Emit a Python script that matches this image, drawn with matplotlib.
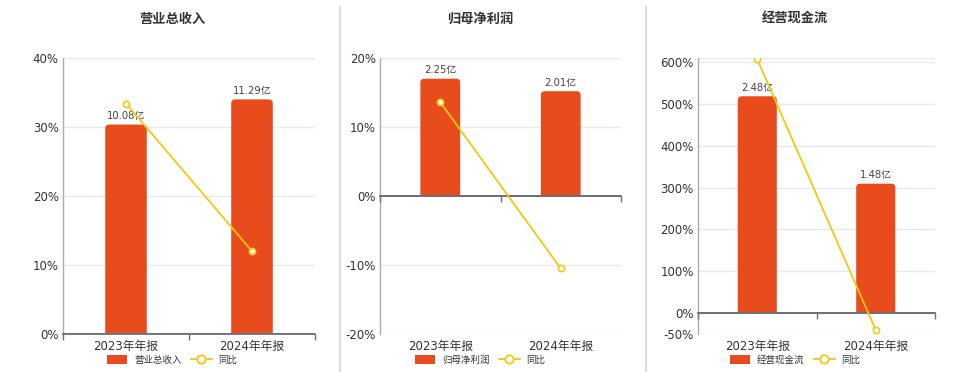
import numpy as np
import matplotlib
matplotlib.use('Agg')
import matplotlib.pyplot as plt
from matplotlib.patches import FancyBboxPatch, Rectangle, Patch
from matplotlib.lines import Line2D
from matplotlib.ticker import FuncFormatter

plt.rcParams['font.family'] = ['DejaVu Sans', 'Noto Sans CJK SC']

# ---------------- data ----------------
categories = ['2023年年报', '2024年年报']
titles = ['营业总收入', '归母净利润', '经营现金流']
revenue = [10.08, 11.29]
revenue_yoy = [33.4, 12.0]
profit = [2.25, 2.01]
profit_yoy = [13.6, -10.5]
cashflow = [2.48, 1.48]
cashflow_yoy = [607.0, -40.7]
unit = '亿'
yoy_name = '同比'
pct_limits = [(0, 40), (-20, 20), (-50, 610)]
pct_ticks = [[0, 10, 20, 30, 40], [-20, -10, 0, 10, 20],
             [-50, 0, 100, 200, 300, 400, 500, 600]]

# ---------------- style ----------------
W, H = 960, 372
BAR_C = '#E84C1C'
LINE_C = '#F5C710'
GRID_C = '#E6EAF2'
AXIS_C = '#6E7079'
SPINE_C = '#A9ADB4'
TEXT_C = '#333333'

axes_px = [(63, 315), (380, 621), (698, 935)]
centers_px = [172, 480, 795]
TOP, BOT = 58, 334

fig = plt.figure(figsize=(W / 100, H / 100), dpi=100)

panels = [(revenue, revenue_yoy), (profit, profit_yoy), (cashflow, cashflow_yoy)]
x = np.arange(len(categories))


def round_bars(axb, rects, radius_px):
    bbox = axb.get_position()
    w_px = bbox.width * W
    h_px = bbox.height * H
    x0, x1 = axb.get_xlim()
    y0, y1 = axb.get_ylim()
    xu = (x1 - x0) / w_px
    yu = (y1 - y0) / h_px
    r = radius_px * xu
    aspect = yu / xu
    for rect in rects:
        bx, by = rect.get_xy()
        bw, bh = rect.get_width(), rect.get_height()
        rect.set_visible(False)
        ext = radius_px * yu * 2
        p = FancyBboxPatch((bx, by - ext), bw, bh + ext,
                           boxstyle=f'round,pad=0,rounding_size={r}',
                           mutation_aspect=aspect, fc=BAR_C, ec='none')
        axb.add_patch(p)
        clip = Rectangle((bx - bw, by), bw * 3, bh * 2, transform=axb.transData)
        p.set_clip_path(clip)


for i, (vals, yoy) in enumerate(panels):
    l, r = axes_px[i]
    ax = fig.add_axes([l / W, 1 - BOT / H, (r - l) / W, (BOT - TOP) / H])
    ymin, ymax = pct_limits[i]
    ax.set_xlim(-0.5, 1.5)
    ax.set_ylim(ymin, ymax)
    ax.set_yticks(pct_ticks[i])
    ax.yaxis.set_major_formatter(FuncFormatter(lambda v, p: f'{v:.0f}%'))
    ax.grid(axis='y', color=GRID_C, lw=1)
    ax.axhline(ymax, color=GRID_C, lw=1)
    ax.set_axisbelow(True)
    for s in ['top', 'right', 'bottom']:
        ax.spines[s].set_visible(False)
    ax.spines['left'].set_color(SPINE_C)
    ax.spines['left'].set_linewidth(1)
    ax.set_xticks(x)
    ax.set_xticklabels(categories)
    ax.tick_params(axis='x', length=0, pad=4, labelsize=8.5, labelcolor=TEXT_C)
    ax.tick_params(axis='y', length=0, pad=3, labelsize=8.5, labelcolor=TEXT_C)

    # bars on hidden twin scale
    axb = ax.twinx()
    bmax = max(vals) / 0.85
    axb.set_ylim(bmax * ymin / ymax, bmax)
    axb.set_yticks([])
    for s in axb.spines.values():
        s.set_visible(False)
    rects = axb.bar(x, vals, width=0.33, color=BAR_C)
    round_bars(axb, rects, 4)
    for xi, v in zip(x, vals):
        axb.annotate(f'{v:.2f}{unit}', (xi, v), xytext=(0, 2.5),
                     textcoords='offset points', ha='center', va='bottom',
                     fontsize=7.2, color='#444444')

    # line on top
    axl = ax.twinx()
    axl.set_ylim(ymin, ymax)
    axl.set_yticks([])
    for s in axl.spines.values():
        s.set_visible(False)
    axl.axhline(0, color=AXIS_C, lw=1.3, zorder=1)
    sec = axl.secondary_xaxis((0 - ymin) / (ymax - ymin))
    sec.set_alignment('bottom')
    sec.set_xticks([-0.5, 0.5, 1.5])
    sec.set_xticklabels([])
    sec.tick_params(length=4, color=AXIS_C, width=1)
    sec.spines['bottom'].set_color(AXIS_C)
    sec.spines['bottom'].set_linewidth(1.3)
    axl.plot(x, yoy, color=LINE_C, lw=1.3, marker='o', ms=4.5,
             mfc='white', mec=LINE_C, mew=1.2, zorder=3)

    cx = centers_px[i] / W
    fig.text(cx, 1 - 19 / H, titles[i], ha='center', va='center',
             fontsize=9.5, fontweight='bold', color=TEXT_C,
             family=['Noto Sans CJK SC', 'DejaVu Sans'])
    handles = [Patch(fc=BAR_C, ec='none'),
               Line2D([], [], color=LINE_C, lw=1.3, marker='o', ms=6,
                      mfc='white', mec=LINE_C, mew=1.3)]
    fig.legend(handles, [titles[i], yoy_name], loc='center',
               bbox_to_anchor=(cx, 1 - 360 / H), ncol=2, frameon=False,
               fontsize=6.8, handlelength=2.2, handleheight=1.1,
               handletextpad=0.7, columnspacing=1.0,
               prop={'family': ['Noto Sans CJK SC', 'DejaVu Sans'], 'size': 6.8},
               labelcolor=TEXT_C)

for xs in (340, 646):
    fig.add_artist(Line2D([xs / W, xs / W], [0, 1 - 7 / H], color='#DCDCDC',
                          lw=1.6, transform=fig.transFigure))

fig.savefig('out.png', dpi=100)
